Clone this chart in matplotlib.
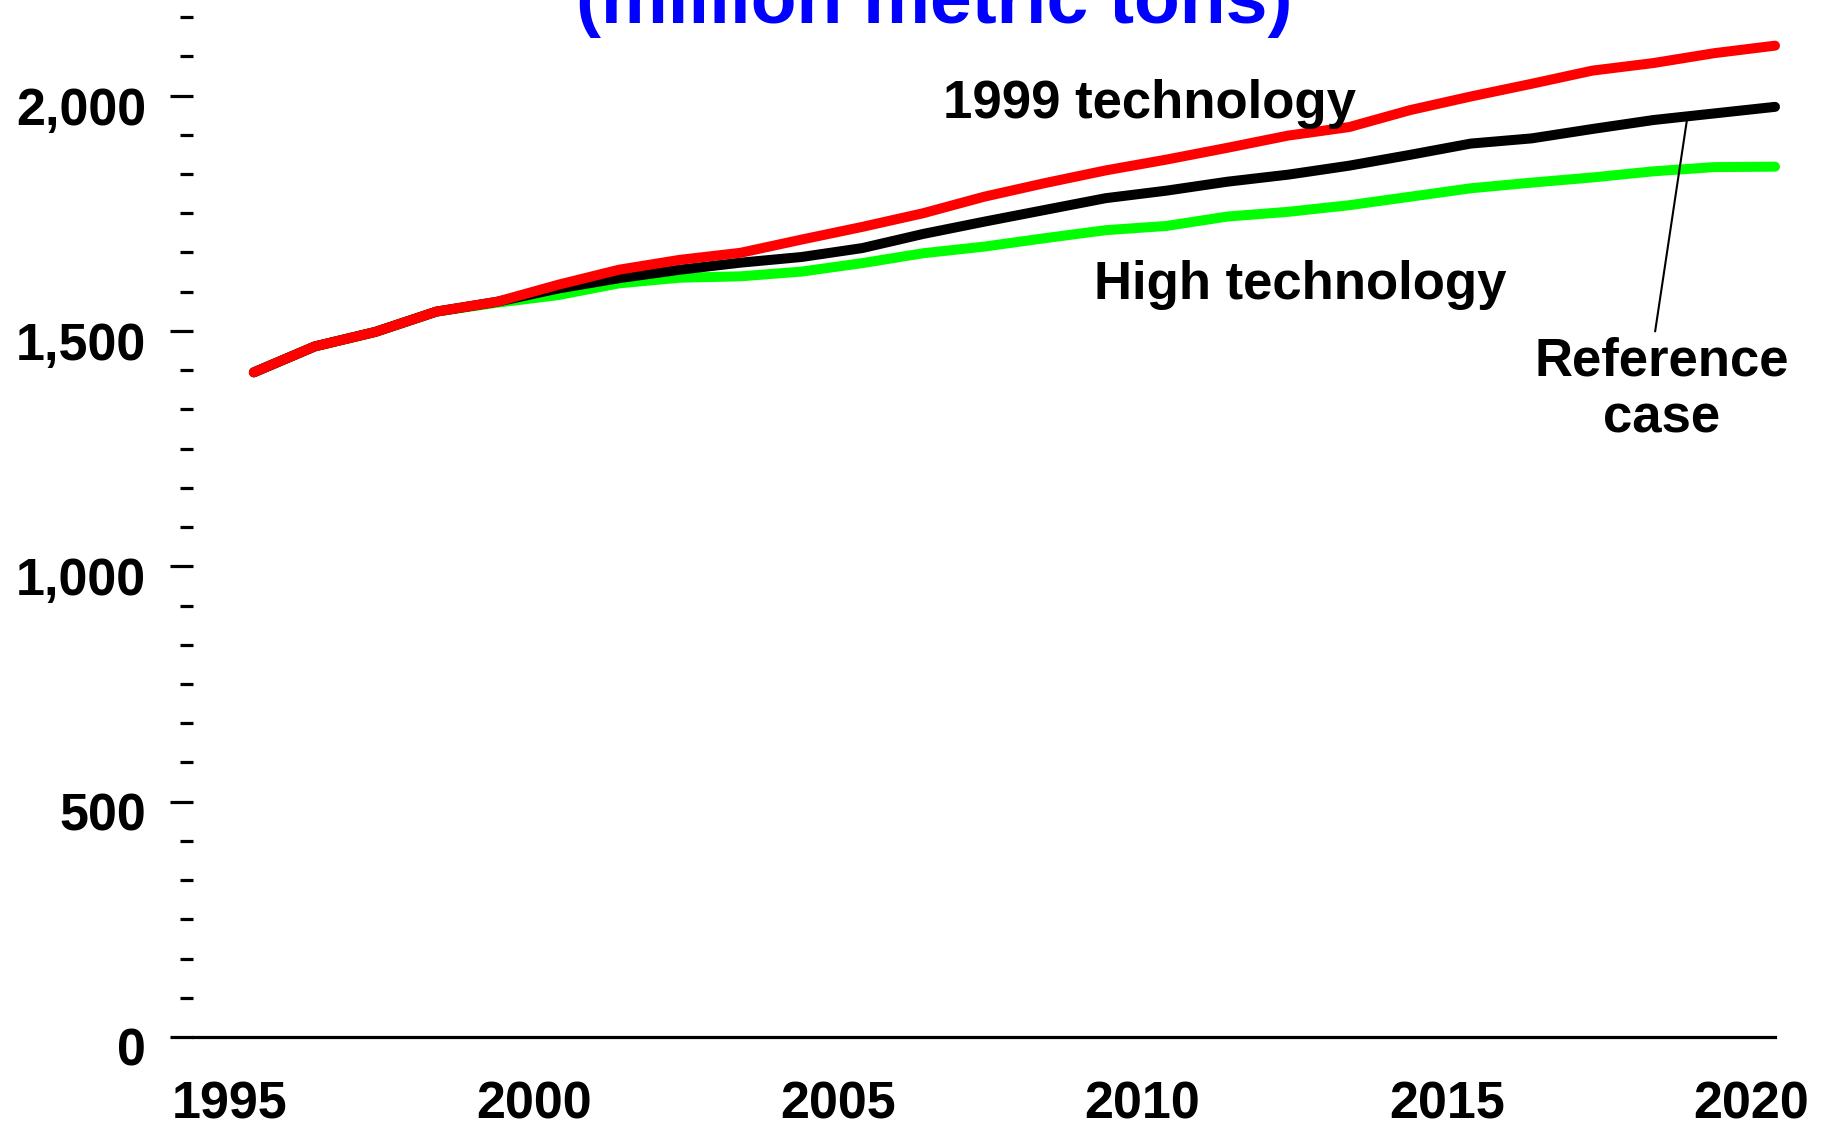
import matplotlib
matplotlib.use('Agg')
import matplotlib.pyplot as plt
import matplotlib.transforms as mtransforms
from matplotlib.ticker import MultipleLocator, FuncFormatter

plt.rcParams['font.family'] = ['Liberation Sans', 'DejaVu Sans']
plt.rcParams['font.weight'] = 'bold'

# Data (million metric tons)
years = list(range(1995, 2021))
tech_1999 = [1412, 1467, 1498, 1541, 1562, 1598, 1630, 1651, 1666, 1694,
             1721, 1750, 1785, 1814, 1841, 1864, 1889, 1915, 1933, 1969,
             1998, 2025, 2053, 2069, 2090, 2106]
reference = [1412, 1467, 1498, 1541, 1562, 1590, 1612, 1630, 1645, 1657,
             1676, 1706, 1732, 1757, 1782, 1798, 1817, 1832, 1851, 1874,
             1898, 1909, 1929, 1948, 1962, 1976]
high_tech = [1412, 1467, 1498, 1541, 1560, 1576, 1601, 1613, 1616, 1626,
             1644, 1665, 1679, 1697, 1714, 1723, 1743, 1753, 1767, 1785,
             1803, 1815, 1826, 1839, 1848, 1849]
year_ticks = [1995, 2000, 2005, 2010, 2015, 2020]

fig = plt.figure(figsize=(18.33, 11.27), dpi=100)
ax = fig.add_axes([193 / 1833, 90 / 1127, (1775 - 193) / 1833, 1037 / 1127])

lw = 7.2
ax.plot(years, high_tech, color='#00ff00', lw=lw, solid_capstyle='round', solid_joinstyle='round', clip_on=False)
ax.plot(years, reference, color='black', lw=lw, solid_capstyle='round', solid_joinstyle='round', clip_on=False)
ax.plot(years, tech_1999, color='#ff0000', lw=lw, solid_capstyle='round', solid_joinstyle='round', clip_on=False)

ax.set_xlim(1994, 2020)
ax.set_ylim(0, 2203)

for s in ['left', 'top', 'right']:
    ax.spines[s].set_visible(False)
ax.spines['bottom'].set_linewidth(2.3)

# y axis
ax.yaxis.set_major_locator(MultipleLocator(500))
ax.yaxis.set_minor_locator(MultipleLocator(500 / 6))
ax.yaxis.set_major_formatter(FuncFormatter(lambda v, p: f'{int(v):,}'))
ax.tick_params(axis='y', which='major', length=16.6, width=2.3, pad=17, labelsize=37.5)
ax.tick_params(axis='y', which='minor', length=9.4, width=2.3)
for lab in ax.get_yticklabels():
    lab.set_fontweight('bold')
    lab.set_transform(lab.get_transform() + mtransforms.ScaledTranslation(0, -10 / 100, fig.dpi_scale_trans))

# x axis
ax.set_xticks(year_ticks)
ax.set_xticklabels([str(y) for y in year_ticks])
ax.tick_params(axis='x', length=0, pad=31, labelsize=37.5)
for lab in ax.get_xticklabels():
    lab.set_fontweight('bold')
    lab.set_transform(lab.get_transform() + mtransforms.ScaledTranslation(-24 / 100, 0, fig.dpi_scale_trans))

# labels
ax.text(2006.33, 1952, '1999 technology', fontsize=38, fontweight='bold', ha='left', va='baseline')
ax.text(2008.80, 1567, 'High technology', fontsize=38, fontweight='bold', ha='left', va='baseline')
ax.text(2018.14, 1406, 'Reference', fontsize=38, fontweight='bold', ha='center', va='baseline')
ax.text(2018.14, 1284, 'case', fontsize=38, fontweight='bold', ha='center', va='baseline')
ax.annotate('', xy=(2018.55, 1946), xytext=(2018.03, 1499),
            arrowprops=dict(arrowstyle='-', lw=1.5, color='black', shrinkA=0, shrinkB=0))

fig.text(934 / 1833, 1 - 23 / 1127, '(million metric tons)', fontsize=54, fontweight='bold',
         color='#0000ff', ha='center', va='baseline')

plt.savefig('out.png', dpi=100)
